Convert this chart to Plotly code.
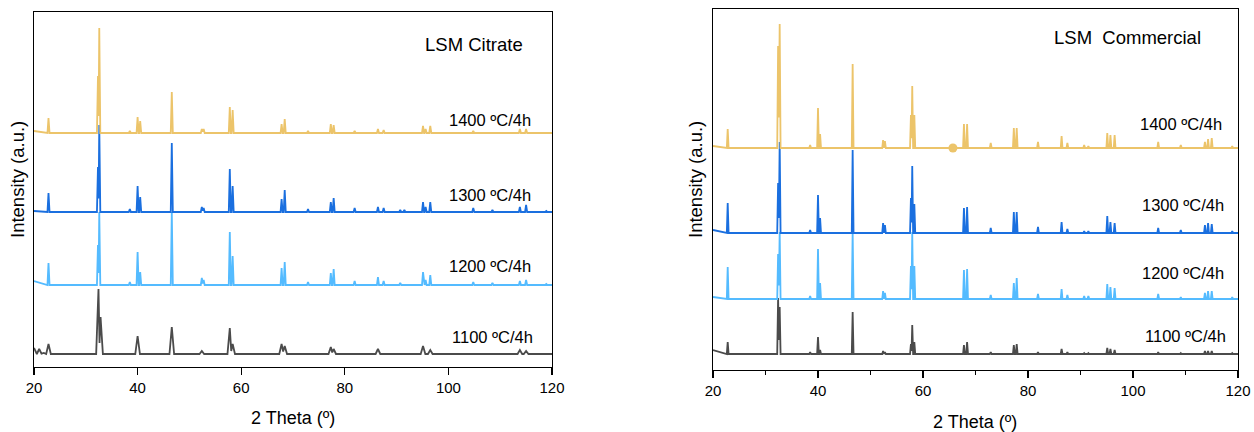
import plotly.graph_objects as go

# ---------------- data ----------------
X_RANGE = [20, 120]
X_TICKS = [20, 40, 60, 80, 100, 120]

labels = ["1100 ºC/4h", "1200 ºC/4h", "1300 ºC/4h", "1400 ºC/4h"]
colors = ["#4b4b4b", "#54bbff", "#1a6fdf", "#ecc46a"]

# ---- LSM Citrate (left) : baseline offsets, start level, peak positions/heights (a.u.)
cit_base = [13, 82, 155, 234]
cit_start = [19, 86, 156, 236]
cit_pos_1100 = [21.0, 21.9, 22.8, 32.45, 32.85, 40.0, 46.6, 52.4, 57.8, 58.35, 67.8, 68.4, 77.3, 77.85, 86.4,
                95.1, 96.5, 113.8, 115.0]
cit_h_1100 = [5, 1, 10, 65, 37, 18, 27, 3, 26, 10, 10, 8, 7, 5, 5, 8, 4, 4, 3]
cit_pos_1200 = [22.8, 32.35, 32.6, 38.5, 40.0, 40.5, 46.6, 52.4, 52.75, 57.8, 58.35, 67.8, 68.4, 72.9, 77.3,
                77.85, 81.9, 86.4, 87.5, 90.7, 95.1, 95.6, 96.5, 104.8, 108.5, 113.8, 115.0, 118.9]
cit_h_1200 = [22, 40, 73, 3, 33, 13, 73, 7, 5, 53, 29, 17, 23, 3, 12, 16, 4, 8, 4, 2, 13, 5, 10, 3, 2, 4, 5, 1]
cit_pos_1300 = [22.8, 32.35, 32.6, 38.5, 40.0, 40.5, 46.6, 52.4, 52.75, 57.8, 58.35, 67.8, 68.4, 72.9, 77.3,
                77.85, 81.9, 86.4, 87.5, 90.7, 91.5, 95.1, 95.6, 96.5, 104.8, 108.5, 113.8, 115.0, 118.9]
cit_h_1300 = [19, 45, 87, 3, 26, 15, 69, 5, 4, 43, 26, 13, 22, 3, 10, 14, 4, 5, 4, 2, 2, 10, 5, 10, 4, 2, 5, 7, 1]
cit_pos_1400 = [22.8, 32.35, 32.6, 38.5, 40.0, 40.5, 46.6, 52.4, 52.75, 57.8, 58.35, 67.8, 68.4, 72.9, 77.3,
                77.85, 81.9, 86.4, 87.5, 95.1, 95.6, 96.5, 104.8, 113.8, 115.0]
cit_h_1400 = [15, 57, 105, 2, 16, 12, 41, 4, 4, 26, 23, 9, 14, 2, 9, 8, 2, 4, 3, 7, 4, 7, 2, 4, 4]

# ---- LSM Commercial (right)
com_base = [16, 71, 137, 222]
com_start = [20, 73, 140, 224]
com_pos = [22.8, 32.4, 32.7, 38.5, 40.0, 40.4, 46.6, 52.4, 52.75, 57.7, 57.95, 58.35, 67.8, 68.4, 72.9, 77.3,
           77.85, 81.9, 86.4, 87.5, 90.7, 91.5, 95.1, 95.7, 96.5, 104.8, 109.1, 113.7, 114.3, 115.0, 118.9]
com_h_1100 = [12, 56, 47, 2, 17, 4, 42, 3, 2, 10, 29, 12, 9, 12, 2, 9, 10, 2, 5, 2, 1, 1, 6, 5, 4, 2, 1, 3, 3, 3, 1]
com_h_1200 = [32, 45, 67, 3, 50, 16, 67, 8, 6, 33, 67, 33, 29, 30, 4, 16, 21, 5, 10, 4, 3, 3, 15, 12, 11, 5, 2,
              6, 8, 8, 2]
com_h_1300 = [30, 50, 91, 3, 38, 15, 83, 10, 8, 35, 67, 29, 25, 26, 5, 21, 21, 6, 11, 4, 2, 2, 17, 11, 10, 5, 3,
              8, 10, 9, 2]
com_h_1400 = [19, 102, 124, 3, 40, 14, 84, 8, 7, 33, 62, 33, 24, 24, 5, 20, 20, 6, 12, 5, 3, 2, 15, 13, 13, 6, 3,
              6, 9, 10, 2]
com_marker_x = [65.7]
com_marker_y = [222]

cit_sets = [(cit_pos_1100, cit_h_1100), (cit_pos_1200, cit_h_1200), (cit_pos_1300, cit_h_1300),
            (cit_pos_1400, cit_h_1400)]
com_sets = [(com_pos, com_h_1100), (com_pos, com_h_1200), (com_pos, com_h_1300), (com_pos, com_h_1400)]
cit_widths = [0.45, 0.2, 0.2, 0.2]
com_widths = [0.17, 0.17, 0.17, 0.17]


def profile(pos, h, base, start, w):
    xs, ys = [X_RANGE[0]], [start]
    n = len(pos)
    for i in range(n):
        p, hh = pos[i], h[i]
        if i == 0 or pos[i - 1] + w < p - w:
            xs.append(p - w)
            ys.append(base)
        xs.append(p)
        ys.append(base + hh)
        if i == n - 1 or p + w < pos[i + 1] - w:
            xs.append(p + w)
            ys.append(base)
        else:
            xs.append((p + pos[i + 1]) / 2)
            ys.append(base + 0.3 * min(hh, h[i + 1]))
    xs.append(X_RANGE[1])
    ys.append(base)
    return xs, ys


fig = go.Figure()
for k in range(4):
    xs, ys = profile(cit_sets[k][0], cit_sets[k][1], cit_base[k], cit_start[k], cit_widths[k])
    fig.add_trace(go.Scatter(x=xs, y=ys, mode="lines", line=dict(color=colors[k], width=1.8),
                             name=labels[k], xaxis="x", yaxis="y", showlegend=False))
for k in range(4):
    xs, ys = profile(com_sets[k][0], com_sets[k][1], com_base[k], com_start[k], com_widths[k])
    fig.add_trace(go.Scatter(x=xs, y=ys, mode="lines", line=dict(color=colors[k], width=1.8),
                             name=labels[k], xaxis="x2", yaxis="y2", showlegend=False))
fig.add_trace(go.Scatter(x=com_marker_x, y=com_marker_y, mode="markers",
                         marker=dict(color=colors[3], size=9), xaxis="x2", yaxis="y2", showlegend=False))

FONT = "Arial, 'Liberation Sans', sans-serif"
axis_common = dict(range=X_RANGE, tickvals=X_TICKS, showline=True, mirror=True, linecolor="black",
                   linewidth=1.3, ticks="outside", ticklen=7, tickwidth=1.3, tickcolor="black",
                   showgrid=False, zeroline=False, automargin=False, ticklabeloverflow="allow",
                   tickfont=dict(size=15, color="black", family=FONT))
yaxis_common = dict(showline=True, mirror=True, linecolor="black", linewidth=1.3, ticks="",
                    showticklabels=False, showgrid=False, zeroline=False, automargin=False)

# body margin is removed by the post script, so figure pixels equal screen pixels
W, H = 1254, 432


def px(sx):
    return sx / W


def py(sy):
    return 1 - sy / H


fig.update_layout(
    template="none",
    width=W, height=H, margin=dict(l=0, r=0, t=0, b=0, pad=0),
    paper_bgcolor="white", plot_bgcolor="white",
    font=dict(family=FONT, color="black"),
    hovermode=False,
    xaxis=dict(domain=[px(34), px(552)], anchor="y", **axis_common),
    yaxis=dict(domain=[py(367), py(12)], anchor="x", range=[0, 355], **yaxis_common),
    xaxis2=dict(domain=[px(713), px(1238)], anchor="y2",
                minor=dict(dtick=10, ticklen=4, tickwidth=1.3, tickcolor="black", ticks="outside"),
                **axis_common),
    yaxis2=dict(domain=[py(370), py(9)], anchor="x2", range=[0, 361], **yaxis_common),
)

ann = []


def txt(x, y, s, size, angle=0):
    ann.append(dict(x=px(x), y=py(y), xref="paper", yref="paper", text=s, showarrow=False,
                    font=dict(size=size, color="black", family=FONT), textangle=angle,
                    xanchor="center", yanchor="middle"))


# axis titles
txt(17, 180, "Intensity (a.u.)", 18.5, -90)
txt(695, 180, "Intensity (a.u.)", 18.5, -90)
txt(293, 418, "2 Theta (º)", 18)
txt(975, 422, "2 Theta (º)", 18)
# panel titles
txt(474, 45, "LSM Citrate", 18.5)
txt(1127, 37, "LSM  Commercial", 18.5)
# series labels
cit_lab_xy = [(492, 337), (490, 266), (490, 195), (490, 120)]
com_lab_xy = [(1185, 336), (1183, 273), (1183, 205), (1181, 124)]
for k in range(4):
    txt(cit_lab_xy[k][0], cit_lab_xy[k][1], labels[k], 16.5)
    txt(com_lab_xy[k][0], com_lab_xy[k][1], labels[k], 16.5)
fig.update_layout(annotations=ann)

fig.write_html("out.html", config={"displayModeBar": False, "staticPlot": True},
               post_script="document.body.style.margin='0px';document.body.style.overflow='hidden';")
